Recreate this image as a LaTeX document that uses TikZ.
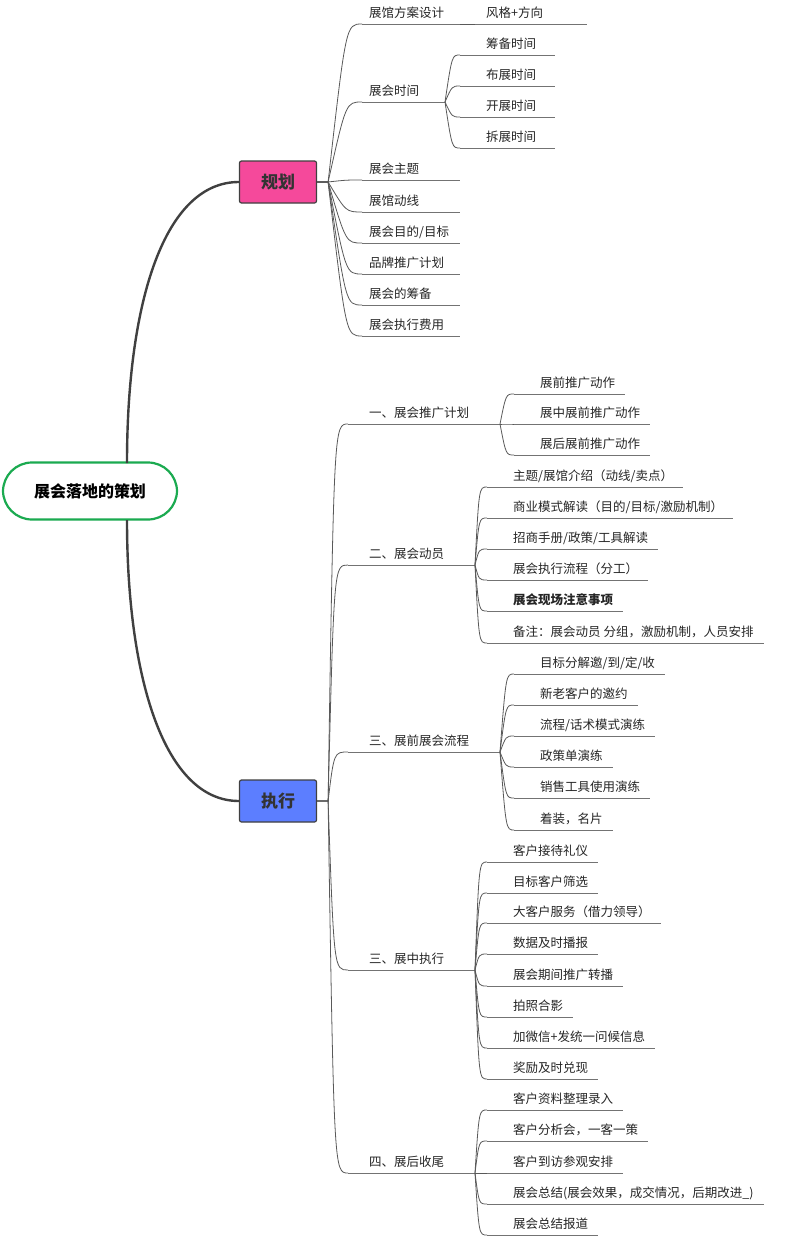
\documentclass[tikz,border=0pt]{standalone}
\usepackage{fontspec}
\setmainfont{Noto Sans CJK SC}
\begin{document}
\begin{tikzpicture}[x=1pt,y=-1pt,
  lf/.style={inner sep=0pt,font=\fontsize{12.5}{14}\selectfont,text=black!85,anchor=west},
  ul/.style={draw=black!55,line width=0.8pt},
  cn/.style={draw=black!65,line width=0.8pt},
  top/.style={draw=black!75,line width=1.2pt,rounded corners=2pt,minimum width=77pt,minimum height=42pt,font=\fontsize{17}{20}\selectfont\bfseries,text=black!80},
  rootc/.style={draw=black!75,line width=2.4pt}]
\useasboundingbox (0,0) rectangle (786,1239);
\fill[white] (0,0) rectangle (786,1239);
\node[draw={rgb,255:red,27;green,170;blue,80},line width=2.2pt,rounded corners=29pt,minimum width=174pt,minimum height=57pt,font=\fontsize{16}{20}\selectfont\bfseries] (root) at (90,491) {展会落地的策划};
\node[top,fill={rgb,255:red,245;green,73;blue,155}] (gh) at (278,182) {规划};
\node[top,fill={rgb,255:red,92;green,126;blue,255}] (zx) at (278,801) {执行};
\coordinate (rt) at (127,463);
\coordinate (rb) at (127,520);
\draw[rootc] (rt) .. controls (127,300) and (165,182) .. (gh.west);
\draw[rootc] (rb) .. controls (127,680) and (165,801) .. (zx.west);
\coordinate (ghp) at (gh.east);
\coordinate (zxp) at (zx.east);
% #1 name #2 parent #3 underline start x #4 text x #5 y #6 text #7 fan #8 curve #9 underline end (0 = auto)
\newcommand\br[9]{%
  \node[lf] (#1) at (#4,#5) {#6};
  \coordinate (#1u) at (#3,#5+11);
  \ifdim #9pt=0pt \coordinate (#1e) at ([xshift=10pt]#1u -| #1.east);\else \coordinate (#1e) at (#9,#5+11);\fi
  \draw[ul] (#1u) -- (#1e);
  \draw[cn] (#2) -- ++(#7,0) .. controls ([xshift=-#8pt]#1u) .. (#1u);
}
% 规划
\br{a1}{ghp}{362}{369}{13}{展馆方案设计}{11}{16}{460}
\br{a11}{a1e}{475}{486}{13}{风格+方向}{0}{8}{587}
\br{a2}{ghp}{362}{369}{91}{展会时间}{11}{16}{445}
\br{a21}{a2e}{460}{486}{44}{筹备时间}{0}{8}{555}
\br{a22}{a2e}{460}{486}{75}{布展时间}{0}{8}{555}
\br{a23}{a2e}{460}{486}{106}{开展时间}{0}{8}{555}
\br{a24}{a2e}{460}{486}{137}{拆展时间}{0}{8}{555}
\br{a3}{ghp}{362}{369}{169}{展会主题}{11}{16}{460}
\br{a4}{ghp}{362}{369}{201}{展馆动线}{11}{16}{460}
\br{a5}{ghp}{362}{369}{232}{展会目的/目标}{11}{16}{460}
\br{a6}{ghp}{362}{369}{263}{品牌推广计划}{11}{16}{460}
\br{a7}{ghp}{362}{369}{294}{展会的筹备}{11}{16}{460}
\br{a8}{ghp}{362}{369}{325}{展会执行费用}{11}{16}{460}
% 执行
\br{b1}{zxp}{348}{369}{413}{一、展会推广计划}{11}{14}{500}
\br{b11}{b1e}{514}{540}{383}{展前推广动作}{0}{8}{0}
\br{b12}{b1e}{514}{540}{413}{展中展前推广动作}{0}{8}{0}
\br{b13}{b1e}{514}{540}{444}{展后展前推广动作}{0}{8}{0}
\br{b2}{zxp}{348}{369}{554}{二、展会动员}{11}{14}{475}
\br{b21}{b2e}{487}{513}{476}{主题/展馆介绍（动线/卖点）}{0}{8}{0}
\br{b22}{b2e}{487}{513}{507}{商业模式解读（目的/目标/激励机制）}{0}{8}{0}
\br{b23}{b2e}{487}{513}{538}{招商手册/政策/工具解读}{0}{8}{0}
\br{b24}{b2e}{487}{513}{569}{展会执行流程（分工）}{0}{8}{0}
\br{b25}{b2e}{487}{513}{600}{\bfseries 展会现场注意事项}{0}{8}{0}
\br{b26}{b2e}{487}{513}{632}{备注：展会动员 分组，激励机制，人员安排}{0}{8}{0}
\br{b3}{zxp}{348}{369}{741}{三、展前展会流程}{11}{14}{500}
\br{b31}{b3e}{514}{540}{663}{目标分解邀/到/定/收}{0}{8}{0}
\br{b32}{b3e}{514}{540}{694}{新老客户的邀约}{0}{8}{0}
\br{b33}{b3e}{514}{540}{725}{流程/话术模式演练}{0}{8}{0}
\br{b34}{b3e}{514}{540}{756}{政策单演练}{0}{8}{0}
\br{b35}{b3e}{514}{540}{787}{销售工具使用演练}{0}{8}{0}
\br{b36}{b3e}{514}{540}{819}{着装，名片}{0}{8}{0}
\br{b4}{zxp}{348}{369}{959}{三、展中执行}{11}{14}{475}
\br{b41}{b4e}{487}{513}{851}{客户接待礼仪}{0}{8}{0}
\br{b42}{b4e}{487}{513}{882}{目标客户筛选}{0}{8}{0}
\br{b43}{b4e}{487}{513}{912}{大客户服务（借力领导）}{0}{8}{0}
\br{b44}{b4e}{487}{513}{943}{数据及时播报}{0}{8}{0}
\br{b45}{b4e}{487}{513}{975}{展会期间推广转播}{0}{8}{0}
\br{b46}{b4e}{487}{513}{1006}{拍照合影}{0}{8}{0}
\br{b47}{b4e}{487}{513}{1037}{加微信+发统一问候信息}{0}{8}{0}
\br{b48}{b4e}{487}{513}{1068}{奖励及时兑现}{0}{8}{0}
\br{b5}{zxp}{348}{369}{1162}{四、展后收尾}{11}{14}{475}
\br{b51}{b5e}{487}{513}{1099}{客户资料整理录入}{0}{8}{0}
\br{b52}{b5e}{487}{513}{1130}{客户分析会，一客一策}{0}{8}{0}
\br{b53}{b5e}{487}{513}{1162}{客户到访参观安排}{0}{8}{0}
\br{b54}{b5e}{487}{513}{1193}{展会总结(展会效果，成交情况，后期改进\_)}{0}{8}{0}
\br{b55}{b5e}{487}{513}{1224}{展会总结报道}{0}{8}{0}
\end{tikzpicture}
\end{document}
